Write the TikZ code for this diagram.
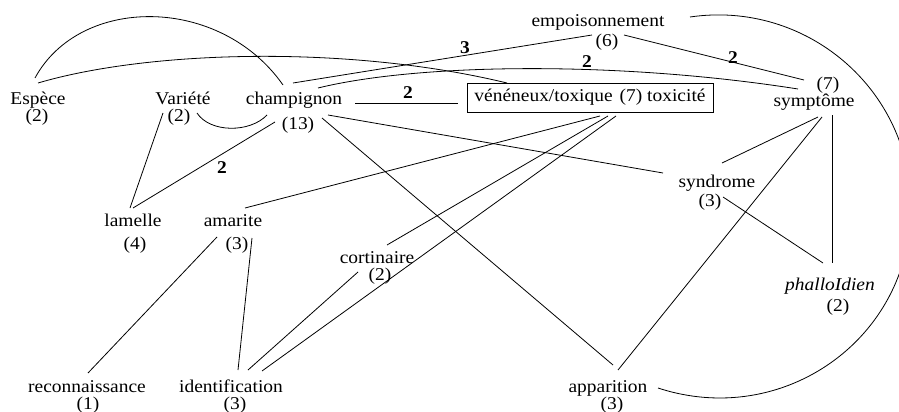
\documentclass[tikz,border=0pt]{standalone}
\usepackage{fontspec}
\setmainfont{Liberation Serif}[FakeStretch=1.08]
\usetikzlibrary{calc}
\begin{document}
\begin{tikzpicture}[x=1pt,y=-1pt,
  lbl/.style={inner sep=0pt, text height=12pt, text depth=4pt, font=\fontsize{18}{20}\selectfont},
  wt/.style={inner sep=0pt, font=\fontsize{18}{20}\selectfont\bfseries},
  edge/.style={draw=black, line width=0.8pt},
  boxnode/.style={draw=black, line width=0.8pt, minimum width=246pt, minimum height=29pt, inner sep=0pt, font=\fontsize{18}{20}\selectfont}]
\useasboundingbox (0,0) rectangle (899,412);
% nodes
\node[lbl] (espece) at (38,100) {Espèce};
\node[lbl] (especeN) at (37,117) {(2)};
\node[lbl] (variete) at (183,100) {Variété};
\node[lbl] (varieteN) at (179,117) {(2)};
\node[lbl] (champ) at (294,100) {champignon};
\node[lbl] (champN) at (298,125) {(13)};
\node[boxnode] (box) at (590,97.5) {vénéneux/toxique\hspace{7pt}(7) toxicité};
\node[lbl] (empo) at (598,23) {empoisonnement};
\node[lbl] (empoN) at (607,43) {(6)};
\node[lbl] (sympt) at (814,102) {symptôme};
\node[lbl] (symptN) at (828,85) {(7)};
\node[lbl] (lamelle) at (133,222) {lamelle};
\node[lbl] (lamelleN) at (135,245) {(4)};
\node[lbl] (amarite) at (233,222) {amarite};
\node[lbl] (amariteN) at (237,245) {(3)};
\node[lbl] (cort) at (377,259) {cortinaire};
\node[lbl] (cortN) at (380,276) {(2)};
\node[lbl] (synd) at (717,183) {syndrome};
\node[lbl] (syndN) at (710,202) {(3)};
\node[lbl,font=\fontsize{18}{20}\selectfont\itshape] (phallo) at (830,286) {phalloIdien};
\node[lbl] (phalloN) at (838,307) {(2)};
\node[lbl] (reco) at (87,388) {reconnaissance};
\node[lbl] (recoN) at (88,405) {(1)};
\node[lbl] (ident) at (231,388) {identification};
\node[lbl] (identN) at (235,405) {(3)};
\node[lbl] (appar) at (608,388) {apparition};
\node[lbl] (apparN) at (612,405) {(3)};
\coordinate (bigR) at (911,207);
% weights
\node[wt] (w1) at (465,48) {3};
\node[wt] (w2) at (587,62) {2};
\node[wt] (w3) at (408,93) {2};
\node[wt] (w4) at (222,168) {2};
\node[wt] (w5) at (733,58) {2};
% edges
\draw[edge] ($(espece)+(-3,-22)$) .. controls +(45,-83) and +(-63,-90) .. ($(champ)+(-11,-15)$);
\draw[edge] ($(espece)+(0,-17)$) .. controls +(112,-33) and +(-157,-38) .. ($(box)+(-83,-14.5)$);
\draw[edge] ($(champ)+(-1,-17)$) -- ($(empo)+(-6,12)$);
\draw[edge] ($(champ)+(24,-12)$) .. controls +(102,-25) and +(-178,-28) .. ($(sympt)+(-16,-13)$);
\draw[edge] ($(champ)+(61,3)$) -- ($(box)+(-132,5.5)$);
\draw[edge] ($(champ)+(34,15)$) -- ($(synd)+(-54,-10)$);
\draw[edge] ($(champ)+(28,18)$) -- ($(appar)+(5,-23)$);
\draw[edge] ($(champ)+(-19,22)$) -- ($(lamelle)+(0,-14)$);
\draw[edge] ($(variete)+(14,13)$) .. controls +(13,20) and +(-17,18) .. ($(champ)+(-27,15)$);
\draw[edge] ($(variete)+(-20,13)$) -- ($(lamelle)+(-3,-14)$);
\draw[edge] ($(amarite)+(12,-14)$) -- ($(box)+(10,18.5)$);
\draw[edge] ($(cort)+(10,-14)$) -- ($(box)+(18,18.5)$);
\draw[edge] ($(ident)+(31,-17)$) -- ($(box)+(26,18.5)$);
\draw[edge] ($(amarite)+(-16,15)$) -- ($(reco)+(1,-15)$);
\draw[edge] ($(amarite)+(19,16)$) -- ($(ident)+(7,-18)$);
\draw[edge] ($(cort)+(-19,13)$) -- ($(ident)+(17,-18)$);
\draw[edge] ($(empo)+(26,12)$) -- ($(sympt)+(-10,-22)$);
\draw[edge] ($(sympt)+(4,15)$) -- ($(synd)+(5,-20)$);
\draw[edge] ($(sympt)+(8,15)$) -- ($(appar)+(10,-18)$);
\draw[edge] ($(sympt)+(18,13)$) -- ($(phallo)+(2,-23)$);
\draw[edge] ($(synd)+(6,14)$) -- ($(phallo)+(-7,-23)$);
\draw[edge] ($(empo)+(92,-6)$) .. controls +(116,-17) and +(0,-118) .. (bigR)
  .. controls +(0,132) and +(125,41) .. ($(appar)+(50,0)$);
\end{tikzpicture}
\end{document}
